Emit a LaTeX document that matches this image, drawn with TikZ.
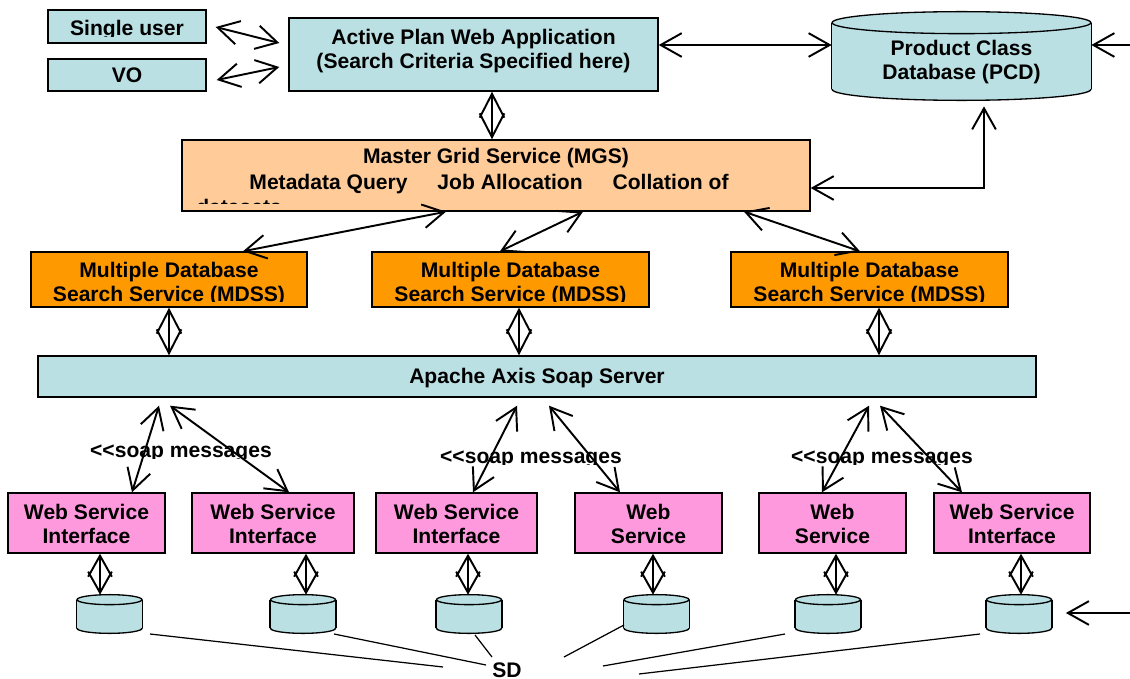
\documentclass[tikz,border=0pt]{standalone}
\usepackage{fontspec}
\setmainfont{Liberation Sans}
\usetikzlibrary{arrows.meta,calc}

\definecolor{paleteal}{RGB}{187,224,227}
\definecolor{peach}{RGB}{255,204,153}
\definecolor{amber}{RGB}{255,153,0}
\definecolor{pinkish}{RGB}{255,153,221}

\tikzset{
  box/.style 2 args={draw, line width=0.8pt, inner sep=0pt, minimum width=#1*0.02cm, minimum height=#2*0.02cm},
  txt/.style={inner sep=0pt, font=\fontsize{12}{13.5}\selectfont\bfseries, align=center},
  twoway/.style={<->, >={Straight Barb[length=12pt,width=13.5pt]}, line width=1.1pt},
  rhomb/.style={twoway, >={Straight Barb[length=13.6pt,width=14pt]}},
  oneway/.style={->, >={Straight Barb[length=12pt,width=13.5pt]}, line width=1.1pt},
  sdline/.style={line width=0.7pt}
}

% database drum: name, centre, width, height, cap radius (pixels)
\newcommand\drum[5]{
  \node[minimum width=#3*0.02cm, minimum height=#4*0.02cm, inner sep=0pt] (#1) at (#2) {};
  \filldraw[fill=paleteal, line width=0.75pt] ($(#1.south)+(0,-#5)$) ellipse [x radius=#3*0.01cm, y radius=#5*0.02cm];
  \fill[paleteal] ($(#1.north west)+(0,#5)$) rectangle ($(#1.south east)+(0,-#5)$);
  \draw[line width=0.75pt] ($(#1.north west)+(0,#5)$) -- ($(#1.south west)+(0,-#5)$)
    ($(#1.north east)+(0,#5)$) -- ($(#1.south east)+(0,-#5)$);
  \filldraw[fill=paleteal, line width=0.75pt] ($(#1.north)+(0,#5)$) ellipse [x radius=#3*0.01cm, y radius=#5*0.02cm];
}

\begin{document}
\begin{tikzpicture}[x=0.02cm, y=-0.02cm]
    \useasboundingbox (0,0) rectangle (1130,679);

    % Top row
    \node[box={158}{33}, fill=paleteal] (su) at (127,26.5) {};
    \node[box={158}{32}, fill=paleteal] (vo) at (127,75) {};
    \node[box={369}{73}, fill=paleteal] (app) at (473.5,54.5) {};
    \drum{pcd}{961.5,56}{259}{88}{11}

    % Services
    \node[box={628}{71}, fill=peach] (mgs) at (496,175.5) {};
    \node[box={276}{55}, fill=amber] (mdss1) at (169,279.5) {};
    \node[box={277}{55}, fill=amber] (mdss2) at (510.5,279.5) {};
    \node[box={277}{55}, fill=amber] (mdss3) at (869.5,279.5) {};
    \node[box={998}{41}, fill=paleteal] (axis) at (537,376.5) {};

    % Web services and their data
    \foreach \n/\x/\w in {1/86.5/157, 2/273/162, 3/456.5/161, 4/648.5/147, 5/832.5/147, 6/1012/156}
        \node[box={\w}{60}, fill=pinkish] (ws\n) at (\x,523) {};
    \foreach \n/\x in {1/109.5, 2/303, 3/469, 4/656.5, 5/828, 6/1019}
        {\drum{c\n}{\x,614}{65}{38}{5}}

    % Labels
    \begin{scope}
        \clip (40,0) rectangle (215,36.5);
        \node[txt, anchor=base] (sutxt) at (127,36) {Single user};
    \end{scope}
    \node[txt, anchor=base] (votxt) at (127,83) {VO};
    \node[txt] (apptxt) at (473.5,51.4) {Active Plan Web Application\\(Search Criteria Specified here)};
    \node[txt] (pcdtxt) at (961.5,62.4) {Product Class\\Database (PCD)};
    \begin{scope}
        \clip (mgs.north west) rectangle (810,204);
        \node[txt, anchor=base] (mgst1) at (496,164) {Master Grid Service (MGS)};
        \node[txt, anchor=base] (mgst2) at (489,190) {Metadata Query\hspace{17pt}Job Allocation\hspace{17pt}Collation of};
        \node[txt, anchor=base west] (mgst3) at (196,214.5) {datasets};
    \end{scope}
    \begin{scope}
        \clip (0,250) rectangle (1130,301);
        \foreach \n in {1,2,3}
            \node[txt] (mdsstxt\n) at ($(mdss\n)+(0,4.9)$) {Multiple Database\\Search Service (MDSS)};
    \end{scope}
    \node[txt, anchor=base] (axistxt) at (537,383) {Apache Axis Soap Server};
    \foreach \n/\t in {1/Web Service\\Interface, 2/Web Service\\Interface, 3/Web Service\\Interface,
                       4/Web\\Service, 5/Web\\Service, 6/Web Service\\Interface}
        \node[txt] (wstxt\n) at ($(ws\n)+(0,1.2)$) {\t};
    \begin{scope}
        \clip (80,430) rectangle (290,458);
        \node[txt, anchor=base] (soap1) at (181,457) {<\kern0pt<soap messages};
    \end{scope}
    \begin{scope}
        \clip (400,440) rectangle (1000,464);
        \node[txt, anchor=base] (soap2) at (531,463) {<\kern0pt<soap messages};
        \node[txt, anchor=base] (soap3) at (882,463) {<\kern0pt<soap messages};
    \end{scope}
    \node[txt, anchor=base] (sd) at (507,677) {SD};

    % Free ends
    \coordinate (pcdfeed) at (1130,45);
    \coordinate (drumfeed) at (1130,613);

    % Top links
    \draw[twoway] ($(su.east)+(9,0.5)$) -- ($(app.west)+(-9,-11.5)$);
    \draw[twoway] ($(vo.east)+(10,5)$) -- ($(app.west)+(-9,12.5)$);
    \draw[twoway] (app.east |- pcdfeed) -- (pcd.west |- pcdfeed);
    \draw[oneway] (pcdfeed) -- (pcd.east |- pcdfeed);
    \draw[rhomb] (app.south -| 492,0) -- (mgs.north -| 492,0);
    \draw[twoway] ($(mgs.east)+(0,12.5)$) -| ($(pcd.south)+(22.5,6)$);

    % MGS to MDSS
    \draw[twoway] ($(mgs.south)+(-50,0)$) -- ($(mdss1.north)+(74,0)$);
    \draw[twoway] ($(mgs.south)+(87,0)$) -- ($(mdss2.north)+(-10.5,0)$);
    \draw[twoway] ($(mgs.south)+(248,0)$) -- ($(mdss3.north)+(-9.5,0)$);

    % MDSS to the soap server
    \foreach \n/\x in {1/169, 2/519, 3/879}
        \draw[rhomb] (mdss\n.south -| \x,0) -- (axis.north -| \x,0);

    % Soap server to web services
    \foreach \ax/\n/\x in {159/1/132, 170/2/289, 517/3/473, 549/4/620, 869/5/822, 880/6/962}
        \draw[twoway] ($(axis.south -| \ax,0)+(0,8)$) -- (ws\n.north -| \x,0);

    % Web services to drums
    \foreach \n/\x in {1/100, 2/306, 3/468, 4/653, 5/836, 6/1021}
        \draw[twoway] (ws\n.south -| \x,0) -- (c\n.north -| \x,0);
    \draw[oneway] (drumfeed) -- ($(c6.east |- drumfeed)+(14,0)$);

    % SD lines
    \draw[sdline] ($(c1)+(40.5,20)$) -- ($(sd.base)+(-64,-10)$);
    \draw[sdline] ($(c2)+(31,20)$) -- ($(sd.base)+(-21,-12)$);
    \draw[sdline] ($(c3)+(6,21)$) -- ($(sd.base)+(-15,-20)$);
    \draw[sdline] ($(c4)+(-32.5,11)$) -- ($(sd.base)+(57,-20)$);
    \draw[sdline] ($(c5)+(-43,20)$) -- ($(sd.base)+(96,-11)$);
    \draw[sdline] ($(c6)+(-39,20)$) -- ($(sd.base)+(132,-3)$);
\end{tikzpicture}
\end{document}
